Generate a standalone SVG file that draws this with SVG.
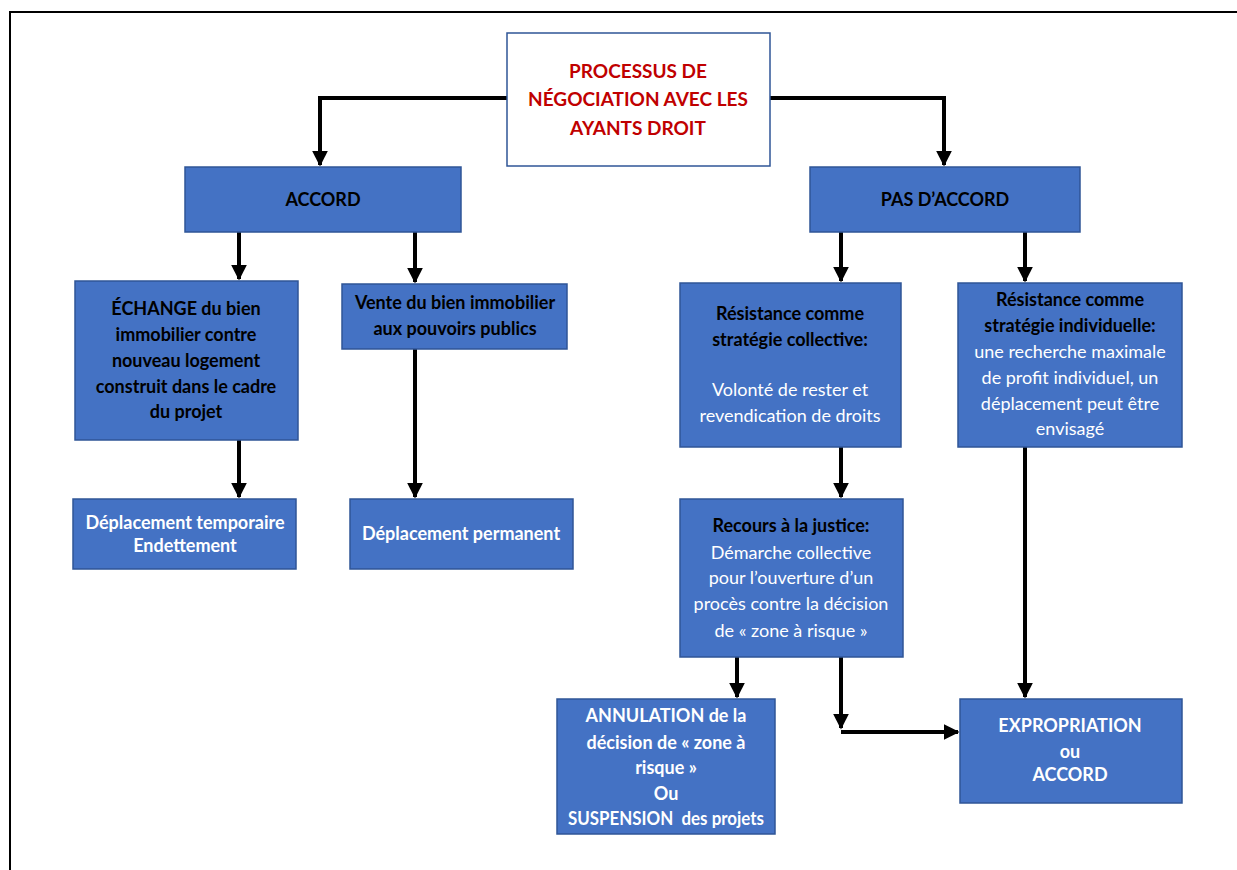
<svg xmlns="http://www.w3.org/2000/svg" width="1237" height="870" viewBox="0 0 1237 870">
<style>
.box{fill:#4472C4;stroke:#2F5597;stroke-width:1.5}
.t{font-family:Lato,"Liberation Sans",sans-serif;font-size:18px;text-anchor:middle;white-space:pre}
.b{font-weight:bold}
.k{fill:#000}
.w{fill:#fff}
.r{fill:#C00000;font-weight:bold;font-size:19px}
.c{fill:none;stroke:#000;stroke-width:4}
</style>
<defs>
<marker id="ah" viewBox="0 0 10 10" refX="9" refY="5" markerWidth="4" markerHeight="4" orient="auto" markerUnits="strokeWidth">
<path d="M0,0 L10,5 L0,10 z" fill="#000"/>
</marker>
</defs>
<rect x="0" y="0" width="1237" height="870" fill="#fff"/>
<path d="M10,880 V12 H1245" fill="none" stroke="#000" stroke-width="2"/>
<g id="connectors">
<path class="c" d="M507,98 H320 V165" marker-end="url(#ah)"/>
<path class="c" d="M770,98 H944 V165" marker-end="url(#ah)"/>
<path class="c" d="M239,232 V279" marker-end="url(#ah)"/>
<path class="c" d="M415,232 V282" marker-end="url(#ah)"/>
<path class="c" d="M841,232 V281" marker-end="url(#ah)"/>
<path class="c" d="M1025,232 V281" marker-end="url(#ah)"/>
<path class="c" d="M239,440 V497" marker-end="url(#ah)"/>
<path class="c" d="M415,349 V497" marker-end="url(#ah)"/>
<path class="c" d="M841,447 V497" marker-end="url(#ah)"/>
<path class="c" d="M1025,447 V697" marker-end="url(#ah)"/>
<path class="c" d="M737,657 V697" marker-end="url(#ah)"/>
<path class="c" d="M841,657 V728" marker-end="url(#ah)"/>
<path class="c" d="M841,732 H958" marker-end="url(#ah)"/>
</g>
<g id="n-title">
<rect x="507" y="33" width="263" height="133" fill="#fff" stroke="#2F5597" stroke-width="1.5"/>
<text class="t r" x="638" y="78">PROCESSUS DE</text>
<text class="t r" x="638" y="106">NÉGOCIATION AVEC LES</text>
<text class="t r" x="638" y="135">AYANTS DROIT</text>
</g>
<g id="n-accord">
<rect class="box" x="185" y="167" width="276" height="65"/>
<text class="t b k" x="323" y="206">ACCORD</text>
</g>
<g id="n-pasaccord">
<rect class="box" x="810" y="167" width="270" height="65"/>
<text class="t b k" x="945" y="206">PAS D’ACCORD</text>
</g>
<g id="n-echange">
<rect class="box" x="75" y="281" width="223" height="159"/>
<text class="t b k" x="186" y="315">ÉCHANGE du bien</text>
<text class="t b k" x="186" y="341">immobilier contre</text>
<text class="t b k" x="186" y="367">nouveau logement</text>
<text class="t b k" x="186" y="393">construit dans le cadre</text>
<text class="t b k" x="186" y="418">du projet</text>
</g>
<g id="n-vente">
<rect class="box" x="342" y="284" width="225" height="65"/>
<text class="t b k" x="455" y="309">Vente du bien immobilier</text>
<text class="t b k" x="455" y="335">aux pouvoirs publics</text>
</g>
<g id="n-temp">
<rect class="box" x="73" y="499" width="223" height="70"/>
<text class="t b w" x="185" y="529">Déplacement temporaire</text>
<text class="t b w" x="185" y="552">Endettement</text>
</g>
<g id="n-perm">
<rect class="box" x="350" y="499" width="223" height="70"/>
<text class="t b w" x="461" y="540">Déplacement permanent</text>
</g>
<g id="n-rescoll">
<rect class="box" x="680" y="283" width="221" height="164"/>
<text class="t b k" x="790" y="320">Résistance comme</text>
<text class="t b k" x="790" y="346">stratégie collective:</text>
<text class="t w" x="790" y="396">Volonté de rester et</text>
<text class="t w" x="790" y="422">revendication de droits</text>
</g>
<g id="n-resind">
<rect class="box" x="958" y="283" width="224" height="164"/>
<text class="t b k" x="1070" y="306">Résistance comme</text>
<text class="t b k" x="1070" y="332">stratégie individuelle:</text>
<text class="t w" x="1070" y="358">une recherche maximale</text>
<text class="t w" x="1070" y="384">de profit individuel, un</text>
<text class="t w" x="1070" y="410">déplacement peut être</text>
<text class="t w" x="1070" y="435">envisagé</text>
</g>
<g id="n-recours">
<rect class="box" x="680" y="499" width="223" height="158"/>
<text class="t b k" x="791" y="532">Recours à la justice:</text>
<text class="t w" x="791" y="559">Démarche collective</text>
<text class="t w" x="791" y="584">pour l’ouverture d’un</text>
<text class="t w" x="791" y="610">procès contre la décision</text>
<text class="t w" x="791" y="637">de « zone à risque »</text>
</g>
<g id="n-annulation">
<rect class="box" x="557" y="699" width="218" height="135"/>
<text class="t b w" x="666" y="722">ANNULATION de la</text>
<text class="t b w" x="666" y="749">décision de « zone à</text>
<text class="t b w" x="666" y="774">risque »</text>
<text class="t b w" x="666" y="800">Ou</text>
<text class="t b w" x="666" y="825" textLength="196" lengthAdjust="spacingAndGlyphs">SUSPENSION  des projets</text>
</g>
<g id="n-expro">
<rect class="box" x="960" y="699" width="222" height="104"/>
<text class="t b w" x="1070" y="732">EXPROPRIATION</text>
<text class="t b w" x="1070" y="758">ou</text>
<text class="t b w" x="1070" y="781">ACCORD</text>
</g>
</svg>
